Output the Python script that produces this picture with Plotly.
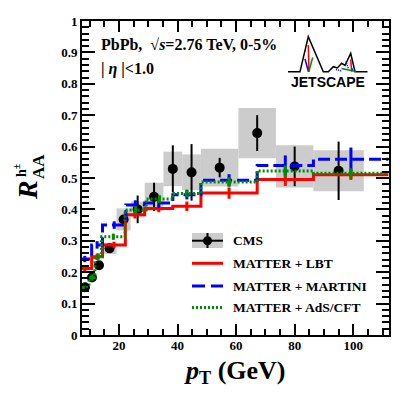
import plotly.graph_objects as go

# CMS charged hadron R_AA, PbPb 2.76 TeV, 0-5%
cms_pt = [8.4, 10.8, 13.2, 16.8, 21.6, 26.4, 32.0, 38.4, 44.8, 54.4, 67.2, 80.0, 95.0]
cms_bin_width = [2.4, 2.4, 2.4, 4.8, 4.8, 4.8, 6.4, 6.4, 6.4, 12.8, 12.8, 12.8, 17.2]
cms_raa = [0.152, 0.183, 0.222, 0.276, 0.368, 0.400, 0.440, 0.529, 0.518, 0.533, 0.643, 0.537, 0.523]
cms_stat = [0.005, 0.006, 0.007, 0.008, 0.010, 0.044, 0.045, 0.075, 0.090, 0.031, 0.057, 0.063, 0.093]
cms_sys = [0.010, 0.012, 0.013, 0.018, 0.035, 0.025, 0.045, 0.055, 0.057, 0.060, 0.080, 0.067, 0.065]

# JETSCAPE model curves (histogram bin edges + values + stat errors)
lbt_edges = [6.0, 10.7, 14.4, 22.2, 28.8, 38.4, 48.0, 67.2, 86.4, 112.0]
lbt_raa = [0.212, 0.249, 0.287, 0.383, 0.403, 0.410, 0.452, 0.495, 0.510]
lbt_err = [0.010, 0.010, 0.010, 0.012, 0.012, 0.015, 0.018, 0.020, 0.016]

martini_edges = [6.0, 10.7, 14.4, 22.4, 28.8, 38.4, 48.0, 67.2, 86.4, 112.0]
martini_raa = [0.242, 0.287, 0.350, 0.414, 0.420, 0.447, 0.493, 0.540, 0.560]
martini_err = [0.010, 0.012, 0.012, 0.015, 0.015, 0.015, 0.019, 0.032, 0.037]

ads_edges = [6.0, 9.8, 11.8, 14.1, 22.1, 29.3, 38.4, 48.0, 67.2, 86.4, 112.0]
ads_raa = [0.155, 0.183, 0.250, 0.313, 0.398, 0.433, 0.451, 0.487, 0.522, 0.515]
ads_err = [0.008, 0.010, 0.010, 0.010, 0.012, 0.012, 0.012, 0.015, 0.018, 0.016]

x_ticks = [20, 40, 60, 80, 100]

W, H = 411, 395
L, R, T, B = 82, 389, 21, 335
SERIF = "Liberation Serif"
RED, BLUE, GREEN, GRAY = "#ff0000", "#0000ff", "#008c00", "#cccccc"


def px(x, y):
    # pixel position in the page -> paper coordinates
    return (x - L) / (R - L), (B - y) / (B - T)


fig = go.Figure()

# systematic boxes
fig.add_trace(go.Bar(
    x=cms_pt, width=cms_bin_width,
    base=[v - s for v, s in zip(cms_raa, cms_sys)],
    y=[2 * s for s in cms_sys],
    marker=dict(color=GRAY, line=dict(width=0)),
    showlegend=False, hoverinfo="skip"))

# CMS points
fig.add_trace(go.Scatter(
    x=cms_pt, y=cms_raa, mode="markers", name="CMS",
    marker=dict(color="black", size=10),
    error_y=dict(type="data", array=cms_stat, color="black", thickness=2, width=0),
    showlegend=False))

models = [
    (lbt_edges, lbt_raa, lbt_err, RED, "solid", 3),
    (martini_edges, martini_raa, martini_err, BLUE, "12px,5px", 3),
    (ads_edges, ads_raa, ads_err, GREEN, "2px,2px", 3),
]
for edges, vals, errs, col, dash, lw in models:
    fig.add_trace(go.Scatter(
        x=edges, y=vals + [vals[-1]], mode="lines", line_shape="hv",
        line=dict(color=col, width=lw, dash=dash), showlegend=False))
    centers = [(a + b) / 2 for a, b in zip(edges[:-1], edges[1:])]
    fig.add_trace(go.Scatter(
        x=centers, y=vals, mode="markers", marker=dict(size=2, color=col, opacity=0),
        error_y=dict(type="data", array=errs, color=col, thickness=3, width=0),
        showlegend=False, hoverinfo="skip"))

shapes = []
annotations = []

# legend (drawn by hand, ROOT style)
x0, y0 = px(192, 233)
x1, y1 = px(223, 248)
shapes.append(dict(type="rect", xref="paper", yref="paper", x0=x0, x1=x1, y0=y0, y1=y1,
                   fillcolor=GRAY, line=dict(width=0)))
ly = px(0, 240.7)[1]
shapes.append(dict(type="line", xref="paper", yref="paper", x0=x0, x1=x1, y0=ly, y1=ly,
                   line=dict(color="black", width=2)))
xm = px(207.5, 0)[0]
shapes.append(dict(type="line", xref="paper", yref="paper", x0=xm, x1=xm, y0=y0, y1=y1,
                   line=dict(color="black", width=2)))
cx0, cy0 = px(203, 245.2)
cx1, cy1 = px(212, 236.2)
shapes.append(dict(type="circle", xref="paper", yref="paper", x0=cx0, x1=cx1, y0=cy0, y1=cy1,
                   fillcolor="black", line=dict(color="black", width=0)))

legend_rows = [
    ("CMS", 240.7, None, None),
    ("MATTER + LBT", 263.3, RED, "solid"),
    ("MATTER + MARTINI", 286.0, BLUE, "13px,6px"),
    ("MATTER + AdS/CFT", 307.5, GREEN, "2px,2px"),
]
for label, yy, col, dash in legend_rows:
    _, py_ = px(0, yy)
    if col:
        shapes.append(dict(type="line", xref="paper", yref="paper", x0=x0, x1=x1, y0=py_, y1=py_,
                           line=dict(color=col, width=3, dash=dash)))
    tx, _ = px(231, 0)
    annotations.append(dict(x=tx, y=py_, xref="paper", yref="paper", text=label, showarrow=False,
                            xanchor="left", yanchor="middle",
                            font=dict(family=SERIF, size=13.5, color="black", weight="bold")))

# header text
hx, hy = px(99, 45)
annotations.append(dict(x=hx, y=hy, xref="paper", yref="paper", showarrow=False,
                        text="PbPb,\u00a0\u00a0√<i>s</i>=2.76 TeV, 0-5%",
                        xanchor="left", yanchor="middle",
                        font=dict(family=SERIF, size=16, color="black", weight="bold")))
hx, hy = px(99, 69)
annotations.append(dict(x=hx, y=hy, xref="paper", yref="paper", showarrow=False,
                        text="| <i>η</i> |<1.0",
                        xanchor="left", yanchor="middle",
                        font=dict(family=SERIF, size=16, color="black", weight="bold")))

# JETSCAPE logo
mountain = [(288, 71.7), (300, 71.7), (308.3, 36.7), (323.3, 71.7), (328.3, 71.7),
            (333.3, 66.7), (337.3, 68), (341.7, 63.3), (345, 65.5), (350.7, 53.3),
            (355, 71.7), (367.5, 71.7)]
path = "M " + " L ".join("%.4f,%.4f" % px(a, b) for a, b in mountain)
shapes.append(dict(type="path", xref="paper", yref="paper", path=path,
                   line=dict(color="black", width=1.5)))
logo_lines = [
    ((308.3, 45), (309, 71.7), RED),
    ((305, 59), (308.5, 71.7), BLUE),
    ((308.8, 71.7), (312.7, 57.5), GREEN),
    ((350.7, 59.5), (351.7, 71.7), RED),
    ((341.5, 68.5), (356, 71.5), GREEN),
]
for (a, b), (c, d), col in logo_lines:
    xa, ya = px(a, b)
    xc, yc = px(c, d)
    shapes.append(dict(type="line", xref="paper", yref="paper", x0=xa, y0=ya, x1=xc, y1=yc,
                       line=dict(color=col, width=1.5)))
for a, b, c, d in [(336, 69.5, 342, 71), (346, 61.5, 348.5, 69), (352, 69, 356, 70)]:
    xa, ya = px(a, b)
    xc, yc = px(c, d)
    shapes.append(dict(type="line", xref="paper", yref="paper", x0=xa, y0=ya, x1=xc, y1=yc,
                       line=dict(color=BLUE, width=1.5, dash="1px,1px")))
jx, jy = px(328, 82)
annotations.append(dict(x=jx, y=jy, xref="paper", yref="paper", showarrow=False,
                        text="JETSCAPE", xanchor="center", yanchor="middle",
                        font=dict(family="Liberation Sans", size=14, color="black", weight="bold")))

# axis titles
tx, ty = px(27, 190)
annotations.append(dict(x=tx, y=ty, xref="paper", yref="paper", showarrow=False, textangle=-90,
                        text="<i>R</i>", xanchor="center", yanchor="middle",
                        font=dict(family=SERIF, size=28, color="black", weight="bold")))
tx, ty = px(38, 167)
annotations.append(dict(x=tx, y=ty, xref="paper", yref="paper", showarrow=False, textangle=-90,
                        text="AA", xanchor="center", yanchor="middle",
                        font=dict(family=SERIF, size=17, color="black", weight="bold")))
tx, ty = px(20, 171)
annotations.append(dict(x=tx, y=ty, xref="paper", yref="paper", showarrow=False, textangle=-90,
                        text="h<sup>±</sup>", xanchor="center", yanchor="middle",
                        font=dict(family=SERIF, size=14, color="black", weight="bold")))
tx, ty = px(235, 372)
annotations.append(dict(x=tx, y=ty, xref="paper", yref="paper", showarrow=False,
                        text="<i>p</i><sub>T</sub> (GeV)", xanchor="center", yanchor="middle",
                        font=dict(family=SERIF, size=26, color="black", weight="bold")))

axis_common = dict(showline=True, linecolor="black", linewidth=2, mirror="ticks",
                   ticks="inside", tickcolor="black", tickwidth=2, showgrid=False,
                   zeroline=False, tickfont=dict(family=SERIF, size=13, color="black", weight="bold"))

fig.update_layout(
    width=W, height=H,
    margin=dict(l=L, r=W - R, t=T, b=H - B),
    paper_bgcolor="white", plot_bgcolor="white",
    barmode="overlay", showlegend=False,
    shapes=shapes, annotations=annotations,
    xaxis=dict(range=[7.4, 112.2], tickmode="array", tickvals=x_ticks, ticklen=11,
               ticklabelstandoff=-3,
               minor=dict(dtick=5, tick0=0, ticks="inside", ticklen=6, tickcolor="black", tickwidth=1.5),
               **axis_common),
    yaxis=dict(range=[0, 1], dtick=0.1, tick0=0, ticklen=13,
               minor=dict(dtick=0.02, tick0=0, ticks="inside", ticklen=7, tickcolor="black", tickwidth=1.5),
               **axis_common),
)

# browsers put an 8px margin round the body; drop it so the figure sits at 0,0
fig.write_html("out.html", config={"displayModeBar": False},
               post_script="document.body.style.margin='0px';")
